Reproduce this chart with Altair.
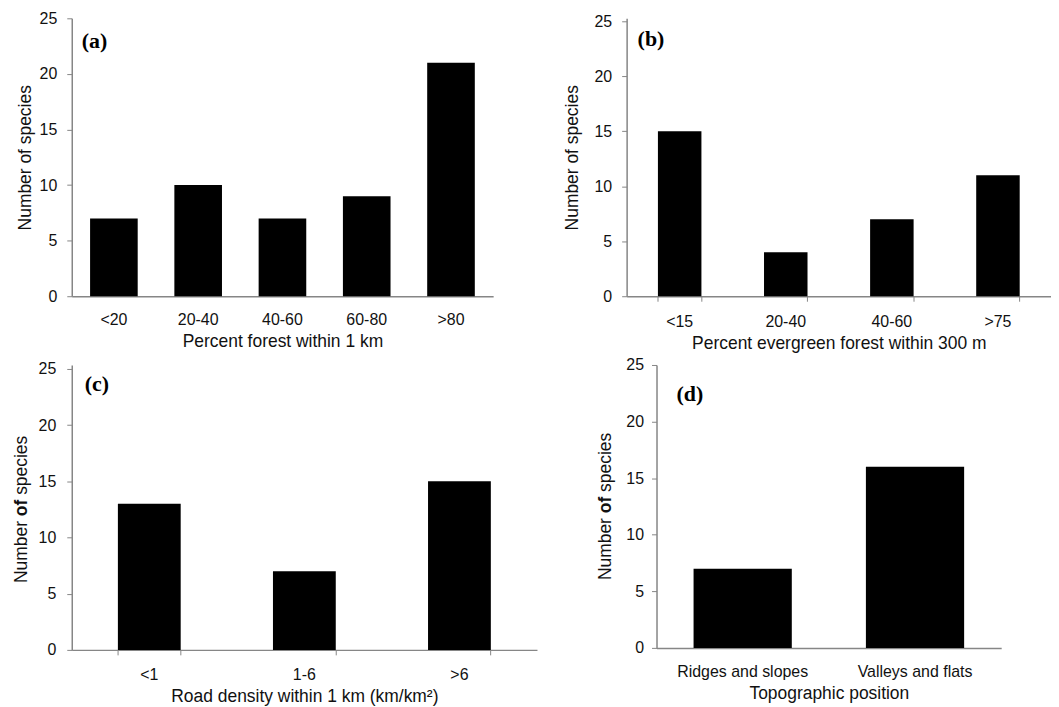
import altair as alt
import pandas as pd

# ---- data ----
cats_a = ["<20", "20-40", "40-60", "60-80", ">80"]
vals_a = [7, 10, 7, 9, 21]
cats_b = ["<15", "20-40", "40-60", ">75"]
vals_b = [15, 4, 7, 11]
cats_c = ["<1", "1-6", ">6"]
vals_c = [13, 7, 15]
cats_d = ["Ridges and slopes", "Valleys and flats"]
vals_d = [7, 16]
y_ticks = [0, 5, 10, 15, 20, 25]

titles_x = [
    "Percent forest within 1 km",
    "Percent evergreen forest within 300 m",
    "Road density within 1 km (km/km\u00b2)",
    "Topographic position",
]
letters = ["(a)", "(b)", "(c)", "(d)"]

FONT = "Liberation Sans"
GRAY = "#868686"
TXT = "#111111"
TFS = 17.5


def panel(cats, vals, w, h, pin, letter, lx, ly, xtitle, xticks,
          ylabpad, ytitlepad, xlabpad, manual_ytitle=False, ytx=0, topgap=0):
    # topgap: pixels of axis line above the "25" tick (panel sits lower in its row)
    df = pd.DataFrame({"cat": cats, "val": vals})
    ymax = 25 * h / (h - topgap)
    if xticks:
        xaxis = alt.Axis(title=xtitle, bandPosition=1, tickExtra=True,
                         ticks=True, tickSize=5,
                         labelPadding=xlabpad, labelAngle=0, titlePadding=5)
    else:
        xaxis = alt.Axis(title=xtitle, ticks=False, tickSize=0,
                         labelPadding=xlabpad, labelAngle=0, titlePadding=5)
    yaxis = alt.Axis(values=y_ticks, title=None if manual_ytitle else "Number of species",
                     tickSize=5, labelPadding=ylabpad, titlePadding=ytitlepad)
    bars = alt.Chart(df).mark_bar(color="black").encode(
        x=alt.X("cat:N", sort=cats,
                scale=alt.Scale(paddingInner=pin, paddingOuter=pin / 2),
                axis=xaxis),
        y=alt.Y("val:Q", scale=alt.Scale(domain=[0, ymax], nice=False, zero=True), axis=yaxis),
    )
    lab = alt.Chart(pd.DataFrame({"t": [letter]})).mark_text(
        font="Liberation Serif", fontWeight="bold", fontSize=22,
        align="left", baseline="middle", color="black"
    ).encode(x=alt.value(lx), y=alt.value(ly + topgap), text="t:N")
    layers = [bars, lab]
    if manual_ytitle:
        s = topgap + (h - topgap) / 2 + 73.9
        parts = [("Number", "normal", s), ("of", "bold", s - 67.1), ("species", "normal", s - 88.5)]
        for txt, wt, yy in parts:
            layers.append(
                alt.Chart(pd.DataFrame({"t": [txt]})).mark_text(
                    font=FONT, fontWeight=wt, fontSize=TFS, angle=270,
                    align="left", baseline="middle", color=TXT
                ).encode(x=alt.value(ytx), y=alt.value(yy), text="t:N")
            )
    return alt.layer(*layers).properties(width=w, height=h)


pa = panel(cats_a, vals_a, 423, 279, 0.435, letters[0], 10, 23, titles_x[0], False, 10, 5, 15)
pb = panel(cats_b, vals_b, 426, 279, 0.59, letters[1], 11, 18, titles_x[1], True, 10, 13, 12,
           topgap=3)
pc = panel(cats_c, vals_c, 467, 286, 0.595, letters[2], 13, 15, titles_x[2], True, 11, 10, 12,
           manual_ytitle=True, ytx=-50, topgap=4)
pd_ = panel(cats_d, vals_d, 346, 284, 0.43, letters[3], 20, 29, titles_x[3], False, 8, 13, 16,
            manual_ytitle=True, ytx=-51)

chart = alt.vconcat(
    alt.hconcat(pa, pb, spacing=70),
    alt.hconcat(pc, pd_, spacing=59),
    spacing=5,
).properties(
    padding={"left": 4, "top": 1, "right": 0, "bottom": 0}
).configure_axis(
    labelFont=FONT, labelFontSize=16, labelColor=TXT,
    titleFont=FONT, titleFontSize=TFS, titleFontWeight="normal", titleColor=TXT,
    domainColor=GRAY, domainWidth=1.5, tickColor=GRAY, tickWidth=1, grid=False,
).configure_view(stroke=None)

chart.save("out.html", embed_options={"renderer": "svg", "actions": False})
